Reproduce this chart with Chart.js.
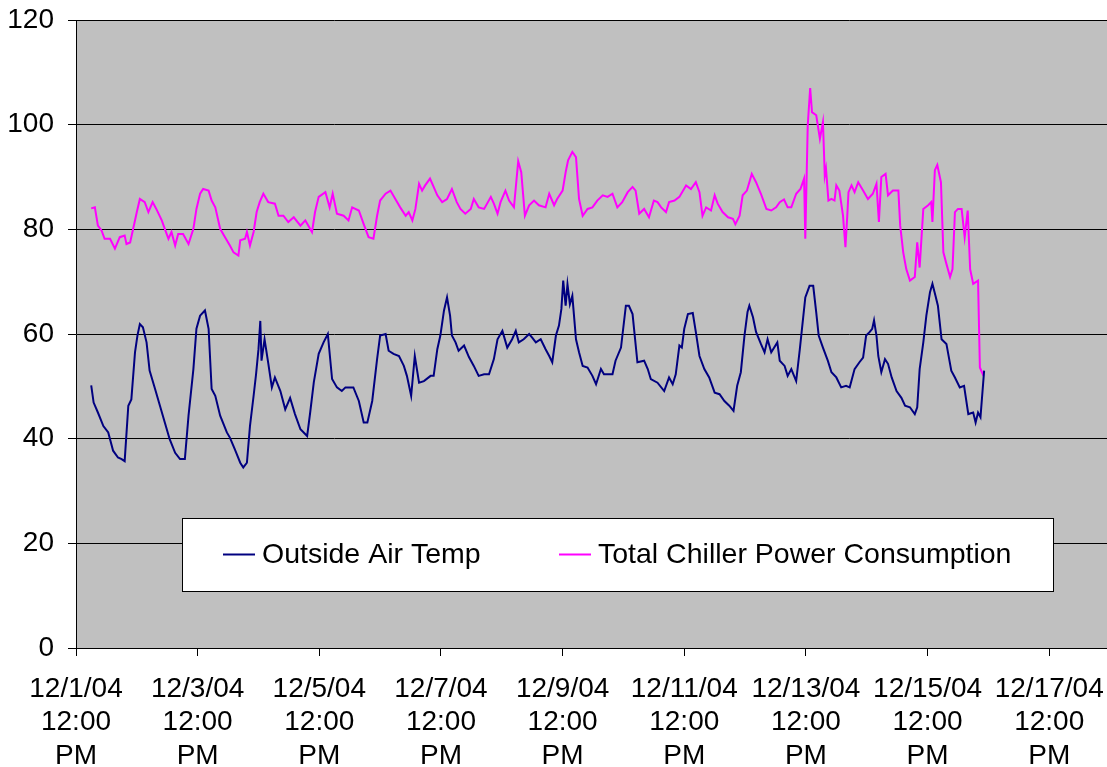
<!DOCTYPE html>
<html>
<head>
<meta charset="utf-8">
<script src="https://cdn.jsdelivr.net/npm/chart.js@4.4.1/dist/chart.umd.min.js"></script>
<style>
    html, body { margin: 0; padding: 0; background: #fff; }
    canvas { display: block; }
</style>
</head>
<body>
<canvas id="grafico" width="1107" height="767"></canvas>
<script>
// x values are days after 12/1/04 12:00 PM
const tickLabels = [
    "12/1/04 12:00 PM", "12/3/04 12:00 PM", "12/5/04 12:00 PM", "12/7/04 12:00 PM", "12/9/04 12:00 PM",
    "12/11/04 12:00 PM", "12/13/04 12:00 PM", "12/15/04 12:00 PM", "12/17/04 12:00 PM"
];
const seriesNames = ["Outside Air Temp", "Total Chiller Power Consumption"];
const seriesColors = ["#000080", "#ff00ff"];

const outsideAirTemp = [
    [0.25,50.2],[0.29,46.9],[0.36,45.0],[0.45,42.4],[0.53,41.2],[0.61,37.7],[0.69,36.4],[0.75,36.1],[0.80,35.7],
    [0.86,46.3],[0.91,47.5],[0.97,56.5],[1.01,59.7],[1.05,61.9],[1.10,61.3],[1.16,58.4],[1.21,53.0],[1.30,49.5],
    [1.38,46.3],[1.46,43.1],[1.54,39.9],[1.63,37.3],[1.71,36.1],[1.79,36.1],[1.85,44.4],[1.93,53.3],[1.98,61.0],
    [2.04,63.5],[2.12,64.5],[2.18,61.0],[2.23,49.5],[2.29,48.2],[2.37,44.4],[2.48,41.2],[2.53,40.2],[2.61,38.0],
    [2.70,35.4],[2.75,34.5],[2.81,35.4],[2.86,42.4],[2.92,48.2],[2.96,52.3],[3.00,57.1],[3.03,62.5],[3.05,54.9],
    [3.10,59.0],[3.16,54.5],[3.22,49.8],[3.27,51.7],[3.36,49.1],[3.44,45.6],[3.52,47.8],[3.60,44.7],[3.69,41.8],
    [3.80,40.5],[3.85,45.0],[3.91,50.8],[3.99,56.2],[4.07,58.4],[4.14,60.0],[4.21,51.4],[4.29,49.8],[4.37,49.1],
    [4.43,49.8],[4.56,49.8],[4.65,47.2],[4.73,43.1],[4.79,43.1],[4.87,47.2],[4.95,55.2],[5.00,59.7],[5.09,60.0],
    [5.14,56.8],[5.22,56.2],[5.31,55.8],[5.39,53.9],[5.44,52.0],[5.51,48.2],[5.57,55.8],[5.64,50.7],[5.72,51.0],
    [5.83,52.0],[5.88,52.0],[5.94,57.1],[5.99,59.7],[6.05,64.5],[6.10,67.0],[6.15,63.5],[6.18,59.7],[6.24,58.4],
    [6.29,56.8],[6.38,57.8],[6.46,55.6],[6.54,53.9],[6.62,52.0],[6.71,52.3],[6.79,52.3],[6.87,55.2],[6.93,59.0],
    [7.01,60.6],[7.09,57.4],[7.17,59.0],[7.23,60.6],[7.28,58.4],[7.36,59.0],[7.45,60.0],[7.50,59.3],[7.56,58.4],
    [7.64,59.0],[7.72,57.1],[7.78,55.8],[7.83,54.6],[7.89,59.7],[7.94,61.6],[7.98,64.8],[8.01,70.2],[8.05,65.4],
    [8.08,69.5],[8.12,65.7],[8.16,67.3],[8.22,59.0],[8.27,56.5],[8.33,53.9],[8.41,53.6],[8.49,52.0],[8.55,50.4],
    [8.63,53.3],[8.68,52.3],[8.82,52.3],[8.87,54.9],[8.96,57.4],[9.04,65.4],[9.09,65.4],[9.15,63.8],[9.23,54.6],
    [9.34,54.9],[9.40,53.3],[9.45,51.4],[9.56,50.7],[9.67,49.1],[9.75,51.7],[9.81,50.4],[9.86,52.3],[9.92,57.8],
    [9.96,57.4],[10.00,61.0],[10.06,63.8],[10.14,64.0],[10.19,60.4],[10.25,55.8],[10.33,53.3],[10.41,51.7],
    [10.50,48.8],[10.58,48.5],[10.66,47.2],[10.74,46.3],[10.81,45.3],[10.87,50.1],[10.93,52.7],[10.99,59.7],
    [11.04,64.2],[11.07,65.4],[11.13,63.2],[11.18,60.4],[11.26,58.1],[11.32,56.5],[11.37,59.0],[11.43,56.5],
    [11.53,58.4],[11.57,54.9],[11.65,53.9],[11.70,52.0],[11.76,53.3],[11.84,51.0],[11.90,57.1],[11.93,60.4],
    [11.99,67.0],[12.06,69.2],[12.12,69.2],[12.17,64.1],[12.21,59.7],[12.28,57.4],[12.36,54.9],[12.42,52.7],
    [12.50,51.7],[12.58,49.8],[12.66,50.1],[12.72,49.8],[12.80,53.3],[12.88,54.6],[12.94,55.5],[12.99,59.7],
    [13.05,60.4],[13.09,61.0],[13.12,62.6],[13.16,59.7],[13.19,55.8],[13.24,52.7],[13.30,55.2],[13.35,54.3],
    [13.41,51.7],[13.49,49.1],[13.57,47.8],[13.63,46.3],[13.71,46.0],[13.79,44.7],[13.83,46.0],[13.87,53.3],
    [13.93,58.4],[13.98,63.5],[14.04,68.0],[14.08,69.6],[14.13,67.3],[14.17,65.4],[14.23,59.0],[14.31,58.1],
    [14.39,53.0],[14.45,51.7],[14.53,49.8],[14.60,50.1],[14.67,44.7],[14.75,45.0],[14.79,43.1],[14.83,45.0],
    [14.87,44.1],[14.93,53.0]
];

const chillerPower = [
    [0.25,84.0],[0.31,84.2],[0.36,80.7],[0.42,79.8],[0.47,78.2],[0.56,78.2],[0.64,76.3],[0.72,78.5],[0.80,78.8],
    [0.83,77.2],[0.89,77.5],[0.94,80.1],[1.00,83.3],[1.05,85.8],[1.13,85.2],[1.19,83.3],[1.26,85.2],[1.32,83.9],
    [1.41,81.7],[1.46,80.1],[1.52,78.2],[1.57,79.5],[1.63,76.9],[1.68,79.1],[1.76,79.1],[1.85,77.2],[1.93,80.1],
    [1.98,83.9],[2.04,86.8],[2.09,87.7],[2.18,87.4],[2.23,85.5],[2.29,84.2],[2.37,80.1],[2.45,78.5],[2.53,76.9],
    [2.59,75.6],[2.67,75.0],[2.70,77.9],[2.78,78.2],[2.81,79.5],[2.86,76.9],[2.92,79.5],[2.97,83.3],[3.02,85.2],
    [3.08,86.8],[3.16,85.2],[3.27,84.9],[3.33,82.6],[3.41,82.6],[3.49,81.4],[3.58,82.3],[3.69,80.7],[3.77,81.7],
    [3.88,79.5],[3.93,83.3],[3.99,86.2],[4.10,87.1],[4.17,84.2],[4.22,86.8],[4.29,83.0],[4.40,82.6],[4.48,81.7],
    [4.54,84.2],[4.65,83.6],[4.73,81.0],[4.81,78.5],[4.89,78.2],[4.95,82.6],[5.00,85.5],[5.09,86.8],[5.17,87.4],
    [5.25,85.8],[5.33,84.2],[5.42,82.6],[5.47,83.3],[5.53,81.7],[5.58,83.9],[5.64,88.7],[5.69,87.4],[5.74,88.4],
    [5.82,89.7],[5.88,88.1],[5.94,86.5],[6.02,85.2],[6.10,85.8],[6.18,87.7],[6.26,85.2],[6.32,83.9],[6.40,83.0],
    [6.49,83.9],[6.54,85.8],[6.62,84.2],[6.71,83.9],[6.82,86.2],[6.87,84.9],[6.93,83.0],[6.98,85.2],[7.06,87.4],
    [7.12,85.5],[7.20,84.2],[7.27,93.0],[7.32,90.9],[7.38,82.6],[7.45,84.6],[7.53,85.5],[7.61,84.6],[7.72,84.2],
    [7.78,86.8],[7.86,84.6],[7.91,85.8],[8.00,87.4],[8.05,90.9],[8.09,93.2],[8.16,94.8],[8.22,93.8],[8.27,85.8],
    [8.33,82.6],[8.41,83.9],[8.49,84.2],[8.57,85.5],[8.66,86.5],[8.74,86.2],[8.82,86.8],[8.90,84.2],[8.98,85.2],
    [9.07,87.1],[9.15,88.1],[9.20,87.4],[9.26,83.0],[9.34,83.9],[9.42,82.3],[9.50,85.5],[9.56,85.2],[9.62,84.2],
    [9.70,83.3],[9.75,85.2],[9.84,85.5],[9.92,86.2],[10.03,88.4],[10.11,87.7],[10.19,89.0],[10.25,87.1],
    [10.30,82.6],[10.36,84.2],[10.44,83.6],[10.50,86.5],[10.55,84.9],[10.63,83.3],[10.72,82.3],[10.80,82.0],
    [10.84,81.0],[10.91,82.6],[10.96,86.5],[11.03,87.4],[11.11,90.6],[11.18,89.0],[11.26,86.8],[11.35,83.9],
    [11.43,83.6],[11.51,84.2],[11.57,85.2],[11.64,85.7],[11.70,84.2],[11.76,84.2],[11.84,86.8],[11.91,87.7],
    [11.97,89.7],[11.99,78.2],[12.03,99.9],[12.07,107.0],[12.10,102.4],[12.17,101.8],[12.23,97.3],[12.28,100.5],
    [12.31,90.3],[12.33,91.6],[12.37,85.5],[12.42,85.8],[12.47,85.5],[12.50,88.4],[12.55,87.4],[12.61,82.6],
    [12.65,76.6],[12.68,82.6],[12.70,87.1],[12.75,88.4],[12.80,87.1],[12.86,89.0],[12.94,87.4],[13.02,85.8],
    [13.10,86.8],[13.16,88.7],[13.20,81.4],[13.24,90.0],[13.31,90.6],[13.35,86.5],[13.43,87.4],[13.52,87.4],
    [13.55,80.7],[13.60,75.6],[13.65,72.4],[13.71,70.2],[13.79,70.9],[13.83,77.5],[13.87,72.7],[13.93,83.9],
    [14.01,84.6],[14.06,85.2],[14.08,81.4],[14.12,91.3],[14.16,92.3],[14.22,89.0],[14.26,75.6],[14.31,73.4],
    [14.37,70.9],[14.41,72.4],[14.45,83.3],[14.50,83.9],[14.56,83.9],[14.61,78.5],[14.66,83.6],[14.70,72.4],
    [14.75,69.6],[14.83,70.2],[14.86,53.6],[14.92,52.0]
];

const fonte = '"Liberation Sans", Arial, sans-serif';
Chart.defaults.font.family = fonte;
Chart.defaults.font.size = 28;
Chart.defaults.color = "#000";

// grey plot area, like the old Excel default
const fundoDoGrafico = {
    id: "fundoDoGrafico",
    beforeDraw(chart) {
        const { ctx, chartArea: a } = chart;
        ctx.save();
        ctx.fillStyle = "#c0c0c0";
        ctx.fillRect(a.left, a.top, a.right - a.left, a.bottom - a.top);
        ctx.restore();
    }
};

// boxed legend sitting inside the plot area
const legendaEmCaixa = {
    id: "legendaEmCaixa",
    afterDatasetsDraw(chart) {
        const { ctx, chartArea: a } = chart;
        const left = a.left + 106, top = a.top + 498, width = 871, height = 73;
        const offsets = [41, 377];
        ctx.save();
        ctx.fillStyle = "#fff";
        ctx.fillRect(left, top, width, height);
        ctx.strokeStyle = "#000";
        ctx.lineWidth = 1;
        ctx.strokeRect(left + 0.5, top + 0.5, width, height);
        ctx.font = "28.5px " + fonte;
        ctx.textBaseline = "middle";
        chart.data.datasets.forEach((ds, i) => {
            const x = left + offsets[i];
            const y = top + height / 2;
            ctx.strokeStyle = ds.borderColor;
            ctx.lineWidth = 2;
            ctx.beginPath();
            ctx.moveTo(x, y);
            ctx.lineTo(x + 32, y);
            ctx.stroke();
            ctx.fillStyle = "#000";
            ctx.fillText(ds.label, x + 39, y + 1);
        });
        ctx.restore();
    }
};

criarGrafico(document.querySelector("#grafico"));

function serie(pontos) {
    return pontos.map(([x, y]) => ({ x, y }));
}

function criarGrafico(ctx) {
    return new Chart(ctx, {
        type: "line",
        data: {
            datasets: [outsideAirTemp, chillerPower].map((pontos, i) => ({
                label: seriesNames[i],
                data: serie(pontos),
                borderColor: seriesColors[i],
                backgroundColor: seriesColors[i],
                borderWidth: 2,
                pointRadius: 0,
                tension: 0
            }))
        },
        options: {
            responsive: false,
            animation: false,
            devicePixelRatio: 1,
            layout: { padding: { top: 20, left: 0, right: 0, bottom: 0 } },
            plugins: { legend: { display: false }, tooltip: { enabled: false } },
            scales: {
                x: {
                    type: "linear",
                    min: 0,
                    max: 16.95,
                    afterBuildTicks: (s) => { s.ticks = tickLabels.map((_, i) => ({ value: i * 2 })); },
                    afterFit: (s) => {
                        s.height = 119;
                        s.paddingLeft = 0;
                        s.paddingRight = 0;
                    },
                    ticks: {
                        autoSkip: false,
                        maxRotation: 0,
                        padding: 16,
                        font: { size: 28, lineHeight: 1.2 },
                        callback: (v, i) => tickLabels[i].split(" ")
                    },
                    grid: { drawOnChartArea: false, drawTicks: true, tickLength: 8, color: "#000" },
                    border: { color: "#000" }
                },
                y: {
                    min: 0,
                    max: 120,
                    afterFit: (s) => {
                        s.width = 76;
                        s.paddingTop = 0;
                        s.paddingBottom = 0;
                    },
                    ticks: { stepSize: 20, padding: 14 },
                    grid: { color: "#000", tickLength: 8 },
                    border: { color: "#000" }
                }
            }
        },
        plugins: [fundoDoGrafico, legendaEmCaixa]
    });
}
</script>
</body>
</html>
